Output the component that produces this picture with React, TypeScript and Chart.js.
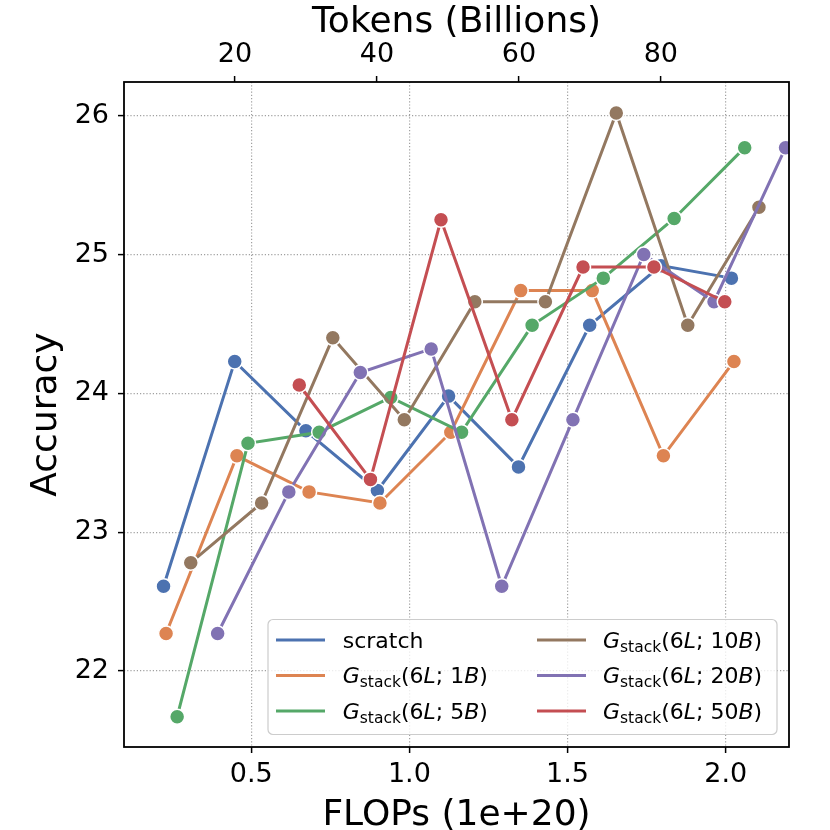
import { useEffect, useRef } from "react";
import { Chart, registerables } from "chart.js";

Chart.register(...registerables);

// ---------- data ----------
const SERIES_NAMES = [
  "scratch",
  "G_{stack}(6L; 1B)",
  "G_{stack}(6L; 5B)",
  "G_{stack}(6L; 10B)",
  "G_{stack}(6L; 20B)",
  "G_{stack}(6L; 50B)",
];
const SERIES_COLORS = ["#4C72B0", "#DD8452", "#55A868", "#937860", "#8172B3", "#C44E52"];

const SCRATCH_X = [0.223, 0.448, 0.673, 0.899, 1.124, 1.345, 1.57, 1.795, 2.018];
const SCRATCH_Y = [22.61, 24.23, 23.73, 23.3, 23.98, 23.47, 24.49, 24.92, 24.83];

const G1B_X = [0.231, 0.455, 0.683, 0.907, 1.131, 1.352, 1.578, 1.803, 2.026];
const G1B_Y = [22.27, 23.55, 23.29, 23.21, 23.72, 24.74, 24.74, 23.55, 24.23];

const G5B_X = [0.266, 0.49, 0.715, 0.941, 1.165, 1.388, 1.613, 1.837, 2.06];
const G5B_Y = [21.67, 23.64, 23.72, 23.97, 23.72, 24.49, 24.83, 25.26, 25.77];

const G10B_X = [0.309, 0.533, 0.758, 0.984, 1.207, 1.43, 1.654, 1.88, 2.105];
const G10B_Y = [22.78, 23.21, 24.4, 23.81, 24.66, 24.66, 26.02, 24.49, 25.34];

const G20B_X = [0.394, 0.619, 0.845, 1.069, 1.292, 1.517, 1.741, 1.963, 2.189];
const G20B_Y = [22.27, 23.29, 24.15, 24.32, 22.61, 23.81, 25.0, 24.66, 25.77];

const G50B_X = [0.652, 0.877, 1.1, 1.324, 1.549, 1.773, 1.997];
const G50B_Y = [24.06, 23.38, 25.25, 23.81, 24.91, 24.91, 24.66];

const SERIES_X = [SCRATCH_X, G1B_X, G5B_X, G10B_X, G20B_X, G50B_X];
const SERIES_Y = [SCRATCH_Y, G1B_Y, G5B_Y, G10B_Y, G20B_Y, G50B_Y];

const FLOPS_TICKS = [0.5, 1.0, 1.5, 2.0];
const TOKEN_TICKS = [20, 40, 60, 80];
const ACC_TICKS = [22, 23, 24, 25, 26];

const X_MIN = 0.098;
const X_MAX = 2.2;
const Y_MIN = 21.452;
const Y_MAX = 26.243;
const TOKENS_PER_FLOP_UNIT = 44.57; // Billions of tokens per 1e20 FLOPs

const FONT = "'DejaVu Sans', 'Liberation Sans', sans-serif";

// ---------- helpers ----------
type Part = { t: string; italic?: boolean; sub?: boolean };

function parseLabel(s: string): Part[] {
  const parts: Part[] = [];
  let i = 0;
  while (i < s.length) {
    if (s.startsWith("_{", i)) {
      const end = s.indexOf("}", i);
      parts.push({ t: s.slice(i + 2, end), sub: true });
      i = end + 1;
      continue;
    }
    const ch = s[i];
    if (s !== "scratch" && /[A-Z]/.test(ch)) {
      parts.push({ t: ch, italic: true });
    } else {
      const last = parts[parts.length - 1];
      if (last && !last.italic && !last.sub) last.t += ch;
      else parts.push({ t: ch });
    }
    i++;
  }
  return parts;
}

function drawRich(ctx: CanvasRenderingContext2D, s: string, x: number, baseline: number) {
  const parts = parseLabel(s);
  let cx = x;
  ctx.textAlign = "left";
  ctx.textBaseline = "alphabetic";
  ctx.fillStyle = "#000";
  for (const p of parts) {
    if (p.sub) {
      ctx.font = `15.5px ${FONT}`;
      ctx.fillText(p.t, cx, baseline + 4);
    } else if (p.italic) {
      ctx.font = `italic 22px ${FONT}`;
      ctx.fillText(p.t, cx, baseline);
    } else {
      ctx.font = `22px ${FONT}`;
      ctx.fillText(p.t, cx, baseline);
    }
    cx += ctx.measureText(p.t).width;
  }
}

const frameAndLegend = {
  id: "frameAndLegend",
  afterDatasetsDraw(chart: any) {
    const { ctx, chartArea: a } = chart;
    ctx.save();
    ctx.strokeStyle = "#000";
    ctx.lineWidth = 1.8;
    ctx.strokeRect(a.left, a.top, a.right - a.left, a.bottom - a.top);
    ctx.restore();
  },
  afterDraw(chart: any) {
    const { ctx } = chart;
    ctx.save();
    // legend box
    const bx = 268, by = 619.5, bw = 509, bh = 115;
    ctx.beginPath();
    (ctx as any).roundRect(bx, by, bw, bh, 5);
    ctx.fillStyle = "rgba(255,255,255,0.8)";
    ctx.fill();
    ctx.strokeStyle = "#cccccc";
    ctx.lineWidth = 1.2;
    ctx.stroke();
    const rows = [640, 675.5, 711];
    const handleX = [276, 537];
    const textX = [342.7, 603];
    SERIES_NAMES.forEach((name, i) => {
      const col = Math.floor(i / 3);
      const row = i % 3;
      const y = rows[row];
      ctx.strokeStyle = SERIES_COLORS[i];
      ctx.lineWidth = 3;
      ctx.lineCap = "butt";
      ctx.beginPath();
      ctx.moveTo(handleX[col], y);
      ctx.lineTo(handleX[col] + 49, y);
      ctx.stroke();
      drawRich(ctx, name, textX[col], y + 7.5);
    });
    ctx.restore();
  },
};

export default function App() {
  const ref = useRef<HTMLCanvasElement | null>(null);

  useEffect(() => {
    document.body.style.margin = "0";
    if (!ref.current) return;
    Chart.defaults.font.family = FONT;
    Chart.defaults.color = "#000";

    const datasets = SERIES_NAMES.map((name, i) => ({
      label: name,
      data: SERIES_X[i].map((x, j) => ({ x, y: SERIES_Y[i][j] })),
      borderColor: SERIES_COLORS[i],
      backgroundColor: SERIES_COLORS[i],
      pointBackgroundColor: SERIES_COLORS[i],
      pointBorderColor: "#ffffff",
      pointBorderWidth: 1.5,
      pointRadius: 7.5,
      pointHoverRadius: 7.5,
      borderWidth: 3,
      tension: 0,
      fill: false,
      clip: 0,
      order: SERIES_NAMES.length - 1 - i,
      xAxisID: "x",
      yAxisID: "y",
    }));

    const tickGrid = {
      color: "#a0a0a0",
      lineWidth: 1.2,
      drawTicks: true,
      tickLength: 6,
      tickColor: "#000",
      tickWidth: 1.5,
    };

    const chart = new Chart(ref.current, {
      type: "line",
      data: { datasets: datasets as any },
      plugins: [frameAndLegend],
      options: {
        responsive: false,
        animation: false,
        layout: { padding: { left: 0, right: 41, top: 0, bottom: 0 } },
        plugins: { legend: { display: false }, tooltip: { enabled: false } },
        scales: {
          x: {
            type: "linear",
            position: "bottom",
            min: X_MIN,
            max: X_MAX,
            afterFit: (s: any) => {
              s.height = 83;
            },
            afterBuildTicks: (s: any) => {
              s.ticks = FLOPS_TICKS.map((v) => ({ value: v }));
            },
            ticks: {
              callback: (v: any) => Number(v).toFixed(1),
              font: { size: 27 },
              color: "#000",
              padding: 6,
              autoSkip: false,
              maxRotation: 0,
            },
            grid: tickGrid,
            border: { display: false, dash: [1.2, 2] },
            title: {
              display: true,
              text: "FLOPs (1e+20)",
              font: { size: 36, lineHeight: 0.8 },
              color: "#000",
              padding: { top: 0, bottom: 0 },
            },
          },
          x2: {
            type: "linear",
            position: "top",
            min: X_MIN * TOKENS_PER_FLOP_UNIT,
            max: X_MAX * TOKENS_PER_FLOP_UNIT,
            afterFit: (s: any) => {
              s.height = 82;
            },
            afterBuildTicks: (s: any) => {
              s.ticks = TOKEN_TICKS.map((v) => ({ value: v }));
            },
            ticks: {
              callback: (v: any) => String(v),
              font: { size: 27 },
              color: "#000",
              padding: 5,
              autoSkip: false,
              maxRotation: 0,
            },
            grid: { ...tickGrid, drawOnChartArea: false },
            border: { display: false },
            title: {
              display: true,
              text: "Tokens (Billions)",
              font: { size: 36, lineHeight: 1 },
              color: "#000",
              padding: { top: 5, bottom: 0 },
            },
          },
          y: {
            type: "linear",
            position: "left",
            min: Y_MIN,
            max: Y_MAX,
            afterFit: (s: any) => {
              s.width = 124;
            },
            afterBuildTicks: (s: any) => {
              s.ticks = ACC_TICKS.map((v) => ({ value: v }));
            },
            ticks: {
              callback: (v: any) => String(v),
              font: { size: 27 },
              color: "#000",
              padding: 9,
              autoSkip: false,
            },
            grid: tickGrid,
            border: { display: false, dash: [1.2, 2] },
            title: {
              display: true,
              text: "Accuracy",
              font: { size: 36, lineHeight: 1 },
              color: "#000",
              padding: { top: 29, bottom: 0 },
            },
          },
        },
      } as any,
    });

    return () => chart.destroy();
  }, []);

  return (
    <div style={{ width: 830, height: 830, position: "relative" }}>
      <canvas ref={ref} width={830} height={830} style={{ display: "block", width: 830, height: 830 }} />
    </div>
  );
}
